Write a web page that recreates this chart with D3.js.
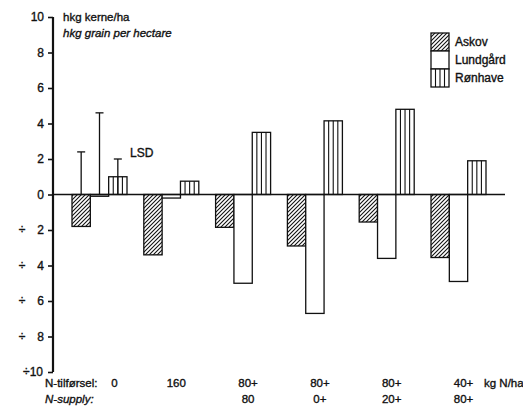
<!DOCTYPE html>
<html>
<head>
<meta charset="utf-8">
<script src="https://cdn.jsdelivr.net/npm/d3@7"></script>
<style>
  body { margin: 0; background: #fff; }
  svg { display: block; font-family: "Liberation Sans", Arial, Helvetica, sans-serif; }
  text { stroke: #111; stroke-width: 0.35px; }
</style>
</head>
<body>
<svg id="chart" width="523" height="414"></svg>
<script>
// Yield difference per N treatment, three sites (hkg grain per hectare)
const groups = ["0", "160", "80+80", "80+0+", "80+20+", "40+80+"];
const supplyTop = ["0", "160", "80+", "80+", "80+", "40+"];
const supplyBottom = ["", "", "80", "0+", "20+", "80+"];
const series = ["Askov", "Lundgård", "Rønhave"];
const askov    = [-1.8, -3.4, -1.85, -2.9, -1.55, -3.55];
const lundgard = [-0.1, -0.2, -5.0, -6.7, -3.6, -4.9];
const ronhave  = [1.0, 0.75, 3.5, 4.15, 4.8, 1.9];
const lsd = [2.4, 4.6, 2.0];
const yTicks = [10, 8, 6, 4, 2, 0, -2, -4, -6, -8, -10];

const values = [askov, lundgard, ronhave];

const svg = d3.select("#chart");
const y = d3.scaleLinear().domain([-10, 10]).range([372, 17]);
const x = d3.scaleBand().domain(groups).range([72, 486]).paddingInner(0.234).paddingOuter(0);
const xs = d3.scaleBand().domain(series).range([0, x.bandwidth()]);

// fill patterns
const defs = svg.append("defs");
const hatch = defs.append("pattern").attr("id", "hatch")
  .attr("patternUnits", "userSpaceOnUse").attr("width", 4).attr("height", 4);
hatch.append("path").attr("d", "M-1,1 l2,-2 M0,4 l4,-4 M3,5 l2,-2")
  .attr("stroke", "#111").attr("stroke-width", 1.1);

function fillFor(s) {
  return s === "Askov" ? "url(#hatch)" : "#fff";
}

// y axis
const yAxis = svg.append("g").attr("transform", "translate(53,0)")
  .call(d3.axisLeft(y).tickValues(yTicks).tickSize(5).tickFormat(() => ""));
yAxis.select(".domain").remove();
yAxis.selectAll(".tick line").attr("stroke", "#111").attr("stroke-width", 1.6);
svg.append("line").attr("x1", 53).attr("x2", 53).attr("y1", y(10)).attr("y2", y(-10))
  .attr("stroke", "#111").attr("stroke-width", 2.2);

const tl = svg.append("g").attr("font-size", 12).attr("fill", "#111");
yTicks.forEach(v => {
  if (v >= 0) {
    tl.append("text").attr("x", 44).attr("y", y(v) + 4).attr("text-anchor", "end").text(v);
  } else if (v > -10) {
    tl.append("text").attr("x", 44).attr("y", y(v) + 4).attr("text-anchor", "end").text(-v);
    tl.append("text").attr("x", 22).attr("y", y(v) + 4).attr("text-anchor", "middle").text("÷");
  } else {
    tl.append("text").attr("x", 43).attr("y", y(v) + 4).attr("text-anchor", "end").text("÷10");
  }
});

// bars
const bars = svg.append("g");
groups.forEach((g, gi) => {
  series.forEach((s, si) => {
    const v = values[si][gi];
    const bx = x(g) + xs(s);
    const bw = xs.bandwidth();
    const y0 = y(Math.max(0, v)), y1 = y(Math.min(0, v));
    bars.append("rect").attr("x", bx).attr("y", y0).attr("width", bw).attr("height", y1 - y0)
      .attr("fill", fillFor(s)).attr("stroke", "#111").attr("stroke-width", 1.3);
    if (s === "Rønhave") {
      [1, 2, 3].forEach(k => {
        bars.append("line").attr("x1", bx + bw * k / 4).attr("x2", bx + bw * k / 4)
          .attr("y1", y0).attr("y2", y1).attr("stroke", "#111").attr("stroke-width", 1.1);
      });
    }
  });
});

// x axis line
svg.append("line").attr("x1", 53).attr("x2", 505).attr("y1", y(0)).attr("y2", y(0))
  .attr("stroke", "#111").attr("stroke-width", 1.6);

// LSD bars on the first group
const lsdG = svg.append("g").attr("stroke", "#111").attr("stroke-width", 1.3);
series.forEach((s, si) => {
  const cx = x(groups[0]) + xs(s) + xs.bandwidth() / 2;
  lsdG.append("line").attr("x1", cx).attr("x2", cx).attr("y1", y(0)).attr("y2", y(lsd[si]));
  lsdG.append("line").attr("x1", cx - 4).attr("x2", cx + 4).attr("y1", y(lsd[si])).attr("y2", y(lsd[si]));
});
svg.append("text").attr("x", 130).attr("y", 157).attr("font-size", 12).attr("fill", "#111").text("LSD");

// unit labels
svg.append("text").attr("x", 63).attr("y", 21).attr("font-size", 11.5).attr("fill", "#111").text("hkg kerne/ha");
svg.append("text").attr("x", 63).attr("y", 37).attr("font-size", 11.5).attr("font-style", "italic")
  .attr("fill", "#111").text("hkg grain per hectare");

// legend
const lg = svg.append("g");
series.forEach((s, i) => {
  const ly = 33 + i * 18;
  lg.append("rect").attr("x", 431).attr("y", ly).attr("width", 18).attr("height", 18)
    .attr("fill", fillFor(s)).attr("stroke", "#111").attr("stroke-width", 1.3);
  if (s === "Rønhave") {
    [1, 2, 3].forEach(k => lg.append("line").attr("x1", 431 + 18 * k / 4).attr("x2", 431 + 18 * k / 4)
      .attr("y1", ly).attr("y2", ly + 18).attr("stroke", "#111").attr("stroke-width", 1.1));
  }
  lg.append("text").attr("x", 455).attr("y", ly + 13).attr("font-size", 12).attr("fill", "#111").text(s);
});

// treatment labels
const bl = svg.append("g").attr("font-size", 11.5).attr("fill", "#111");
bl.append("text").attr("x", 45).attr("y", 387).text("N-tilførsel:");
bl.append("text").attr("x", 45).attr("y", 403).attr("font-style", "italic").text("N-supply:");
groups.forEach((g, i) => {
  const cx = x(g) + x.bandwidth() / 2 + (i === 0 ? 15 : 5);
  bl.append("text").attr("x", cx).attr("y", 387).attr("text-anchor", "middle").text(supplyTop[i]);
  if (supplyBottom[i]) {
    bl.append("text").attr("x", cx).attr("y", 403).attr("text-anchor", "middle").text(supplyBottom[i]);
  }
});
bl.append("text").attr("x", 484).attr("y", 387).text("kg N/ha");
</script>
</body>
</html>
